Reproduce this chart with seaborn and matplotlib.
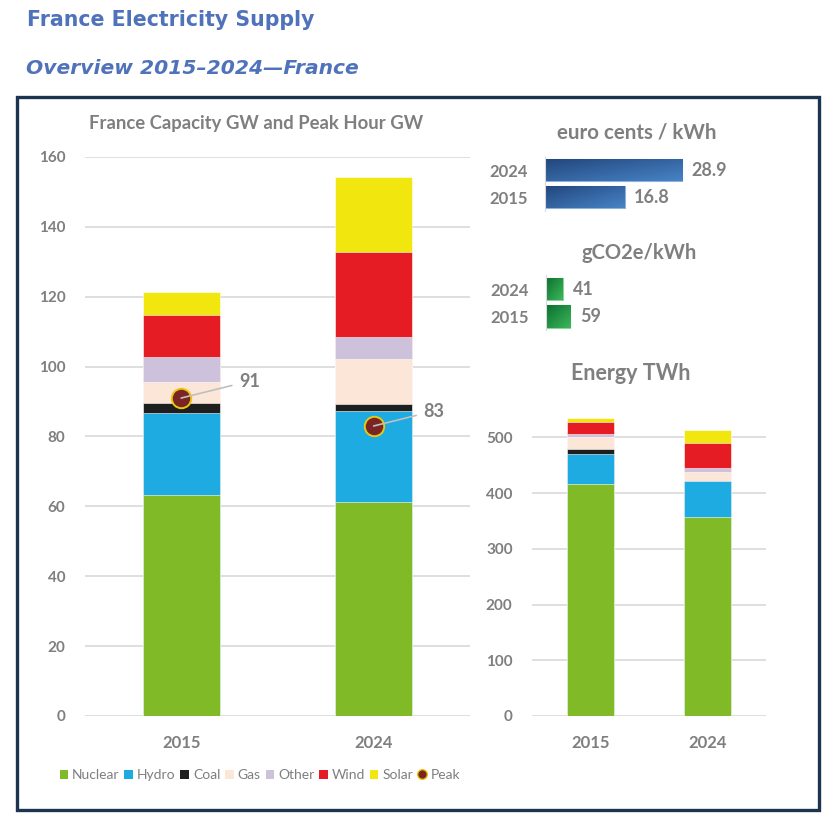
import numpy as np
import pandas as pd
import matplotlib.pyplot as plt
import seaborn as sns
from matplotlib.patches import Patch, Rectangle
from matplotlib.lines import Line2D
from matplotlib.colors import LinearSegmentedColormap

# --- data ---
years = ["2015", "2024"]
sources = ["Nuclear", "Hydro", "Coal", "Gas", "Other", "Wind", "Solar"]
colors = ["#80BA27", "#1DABE2", "#1E1E1E", "#FCE6D8", "#CDC1DB", "#E51C23", "#F2E60F"]

# capacity GW
nuclear_gw = [63.2, 61.3]
hydro_gw = [23.4, 26.0]
coal_gw = [2.9, 2.0]
gas_gw = [6.2, 13.0]
other_gw = [7.1, 6.1]
wind_gw = [11.9, 24.5]
solar_gw = [6.6, 21.4]
peak_gw = [91, 83]

# energy TWh
nuclear_twh = [416, 358]
hydro_twh = [54, 63]
coal_twh = [9, 0.5]
gas_twh = [22, 17]
other_twh = [6, 7]
wind_twh = [20, 45]
solar_twh = [8, 23]

price_cents = [16.8, 28.9]
co2_g = [59, 41]

cap = pd.DataFrame({"year": years, "Nuclear": nuclear_gw, "Hydro": hydro_gw, "Coal": coal_gw,
                    "Gas": gas_gw, "Other": other_gw, "Wind": wind_gw, "Solar": solar_gw})
energy = pd.DataFrame({"year": years, "Nuclear": nuclear_twh, "Hydro": hydro_twh, "Coal": coal_twh,
                       "Gas": gas_twh, "Other": other_twh, "Wind": wind_twh, "Solar": solar_twh})

sns.set_style("white")
plt.rcParams["font.family"] = ["Lato", "DejaVu Sans"]
GRAY = "#7F7F7F"
GRID = "#D9D9D9"

fig = plt.figure(figsize=(8.33, 8.31), dpi=100)


def stacked(ax, df):
    # seaborn stacked bars: draw cumulative totals, tallest first
    cum = df[sources].cumsum(axis=1)
    for src, col in reversed(list(zip(sources, colors))):
        sns.barplot(x=df["year"], y=cum[src], color=col, width=0.4, saturation=1,
                    edgecolor="white", linewidth=0.4, ax=ax, zorder=2)
    ax.set_xlim(-0.5, 1.5)
    ax.set_xlabel("")
    ax.set_ylabel("")
    sns.despine(ax=ax, left=True, bottom=True)
    ax.yaxis.grid(True, color=GRID, linewidth=1.2, zorder=0)
    ax.set_axisbelow(True)
    ax.tick_params(length=0, labelsize=11, labelcolor=GRAY)
    ax.tick_params(axis="x", pad=14, labelsize=12)
    ax.tick_params(axis="y", pad=14)
    for t in ax.get_xticklabels() + ax.get_yticklabels():
        t.set_fontweight("bold")


# --- capacity chart ---
ax1 = fig.add_axes([0.102, 0.1384, 0.462, 0.6727])
stacked(ax1, cap)
ax1.set_ylim(0, 160)
ax1.set_yticks(range(0, 161, 20))
sns.pointplot(x=years, y=peak_gw, ax=ax1, color="#7B2424", markers="o", linestyle="none",
              errorbar=None, markersize=14, markeredgecolor="#E8C80E", markeredgewidth=1.4,
              zorder=6)
ax1.set_xlim(-0.5, 1.5)
offsets = [(58, 17), (50, 15)]
for i, (v, off) in enumerate(zip(peak_gw, offsets)):
    ax1.annotate(str(v), xy=(i, v), xytext=off, textcoords="offset pixels",
                 ha="left", va="center", fontsize=13, fontweight="bold", color=GRAY,
                 arrowprops=dict(arrowstyle="-", color="#BFBFBF", lw=1.2, shrinkA=3, shrinkB=0),
                 zorder=7)
fig.text(0.308, 0.8516, "France Capacity GW and Peak Hour GW", ha="center", va="center",
         fontsize=13.3, fontweight="bold", color=GRAY)

# --- energy chart ---
ax2 = fig.add_axes([0.6387, 0.1384, 0.281, 0.3754])
stacked(ax2, energy)
ax2.set_ylim(0, 560)
ax2.set_yticks(range(0, 501, 100))
fig.text(0.7575, 0.55, "Energy TWh", ha="center", va="center",
         fontsize=15.5, fontweight="bold", color=GRAY)


# --- small horizontal bars with a diagonal gradient fill ---
def hbars(ax, values, dark, light, edge, xmax, fmt):
    order = ["2024", "2015"]
    vals = dict(zip(years, values))
    sns.barplot(x=[vals[y] for y in order], y=order, orient="h", order=order, color=light,
                saturation=1, width=0.82, edgecolor=edge, linewidth=0.8, ax=ax)
    cmap = LinearSegmentedColormap.from_list("g", [dark, light])
    grad = np.add.outer(np.linspace(0, 1, 32), np.linspace(0, 1, 64)) / 2
    for bar in ax.containers[0]:
        x0, y0 = bar.get_x(), bar.get_y()
        w, h = bar.get_width(), bar.get_height()
        im = ax.imshow(grad, cmap=cmap, extent=[x0, x0 + w, y0 + h, y0], origin="upper",
                       aspect="auto", zorder=bar.get_zorder() + 0.1, interpolation="bilinear")
        im.set_clip_path(bar)
    ax.set_ylim(1.5, -0.5)
    ax.set_xlim(0, xmax)
    ax.set_xlabel("")
    ax.set_ylabel("")
    ax.set_xticks([])
    sns.despine(ax=ax, top=True, right=True, bottom=True)
    ax.spines["left"].set_color(GRID)
    ax.tick_params(axis="y", length=0, pad=12, labelsize=12, labelcolor=GRAY)
    for t in ax.get_yticklabels():
        t.set_fontweight("bold")
    ax.bar_label(ax.containers[0], fmt=fmt, padding=7, fontsize=13,
                 fontweight="bold", color=GRAY)


ax3 = fig.add_axes([0.654, 0.7466, 0.228, 0.0646])
hbars(ax3, price_cents, "#22467C", "#4783C6", "#8FB0DA", 40, "%.1f")
fig.text(0.765, 0.84, "euro cents / kWh", ha="center", va="center",
         fontsize=14.8, fontweight="bold", color=GRAY)

ax4 = fig.add_axes([0.6555, 0.6023, 0.228, 0.0665])
hbars(ax4, co2_g, "#0B7030", "#3DB65A", "#8CD39C", 463, "%d")
fig.text(0.767, 0.6955, "gCO2e/kWh", ha="center", va="center",
         fontsize=14.5, fontweight="bold", color=GRAY)

# --- legend ---
handles = [Patch(facecolor=c, edgecolor="none", label=s) for s, c in zip(sources, colors)]
handles.append(Line2D([], [], marker="o", linestyle="none", markerfacecolor="#7B2424",
                      markeredgecolor="#E8C80E", markersize=7, label="Peak"))
fig.legend(handles=handles, loc="center", bbox_to_anchor=(0.312, 0.0674), ncol=8,
           frameon=False, handlelength=0.6, handleheight=0.6, handletextpad=0.3,
           columnspacing=0.35, fontsize=10, labelcolor=GRAY)

# --- headers and frame ---
fig.text(0.032, 0.976, "France Electricity Supply", ha="left", va="center",
         fontsize=14.8, fontweight="bold", color="#4F72BA", family="DejaVu Sans")
fig.text(0.031, 0.918, "Overview 2015\u20132024\u2014France", ha="left", va="center",
         fontsize=14.6, fontweight="bold", fontstyle="italic", color="#4F72BA",
         family="DejaVu Sans")
fig.patches.append(Rectangle((0.0204, 0.0253), 0.9626, 0.858, transform=fig.transFigure,
                             fill=False, edgecolor="#1C3450", linewidth=2.4))

fig.savefig("out.png", dpi=100)
